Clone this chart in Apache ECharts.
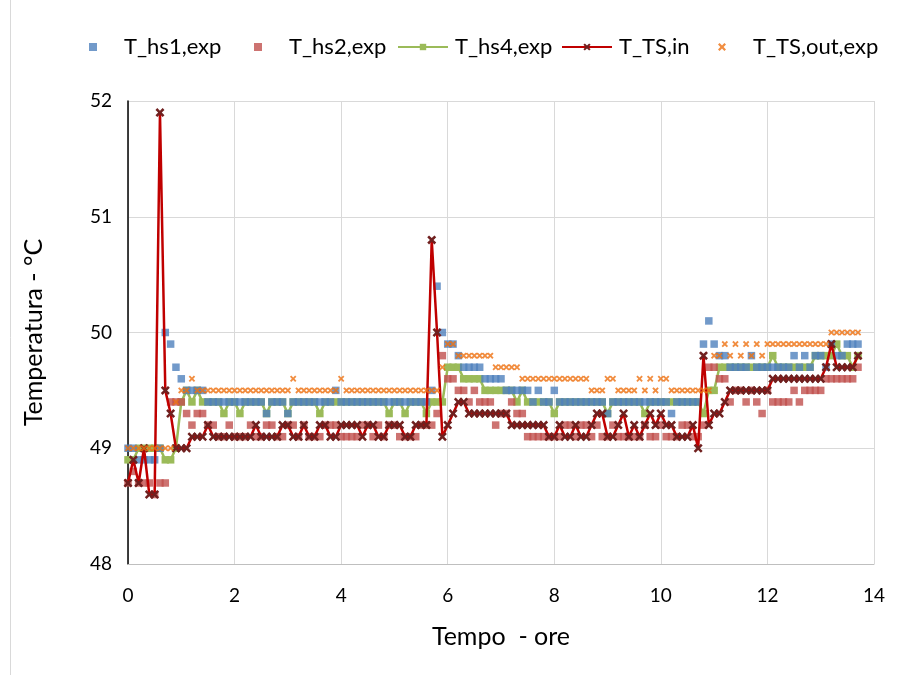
<!DOCTYPE html>
<html>
<head>
<meta charset="utf-8">
<script src="https://cdn.jsdelivr.net/npm/echarts@6/dist/echarts.min.js"></script>
<style>
html,body{margin:0;padding:0;background:#fff;}
#chart{width:901px;height:675px;}
</style>
</head>
<body>
<div id="chart"></div>
<script>
// time step between samples (hours)
const tStep = 0.1;

const hs1 = [
 49.0,49.0,48.9,48.9,48.9,48.9,49.0,50.0,49.9,49.7,
 49.6,49.5,49.5,49.5,49.5,49.4,49.4,49.4,49.4,49.4,
 49.4,49.4,49.4,49.4,49.4,49.4,49.3,49.4,49.4,49.4,
 49.3,49.4,49.4,49.4,49.4,49.4,49.4,49.4,49.4,49.5,
 49.4,49.4,49.4,49.4,49.4,49.4,49.4,49.4,49.4,49.4,
 49.4,49.4,49.4,49.4,49.4,49.4,49.4,49.5,50.4,50.0,
 49.9,49.9,49.8,49.7,49.7,49.7,49.7,49.6,49.6,49.6,
 49.6,49.5,49.5,49.5,49.5,49.5,49.4,49.5,49.4,49.4,
 49.5,49.4,49.4,49.4,49.4,49.4,49.4,49.4,49.4,49.4,
 49.3,49.4,49.4,49.4,49.4,49.4,49.4,49.4,49.4,49.4,
 49.4,49.4,49.3,49.4,49.4,49.4,49.4,49.4,49.9,50.1,
 49.9,49.8,49.8,49.7,49.7,49.7,49.7,49.8,49.7,49.7,
 49.7,49.7,49.7,49.7,49.7,49.8,49.7,49.8,49.7,49.8,
 49.8,49.7,49.9,49.8,49.8,49.9,49.9,49.9
];

const hs2 = [
 48.7,48.8,48.7,48.7,48.7,48.6,48.7,48.7,49.4,49.4,
 49.4,49.3,49.2,49.3,49.3,49.2,49.2,49.1,49.1,49.2,
 49.1,49.1,49.1,49.2,49.1,49.1,49.2,49.2,49.1,49.1,
 49.2,49.2,49.1,49.2,49.1,49.1,49.1,49.2,49.2,49.2,
 49.1,49.1,49.1,49.1,49.2,49.2,49.1,49.2,49.1,49.2,
 49.2,49.1,49.1,49.1,49.1,49.2,49.2,49.2,49.3,49.8,
 49.6,49.6,49.5,49.5,49.4,49.5,49.4,49.4,49.4,49.2,
 49.3,49.3,49.4,49.3,49.3,49.1,49.1,49.1,49.1,49.1,
 49.1,49.1,49.2,49.2,49.1,49.2,49.2,49.1,49.2,49.1,
 49.1,49.2,49.1,49.1,49.1,49.1,49.1,49.2,49.1,49.1,
 49.2,49.1,49.1,49.1,49.2,49.2,49.1,49.1,49.2,49.7,
 49.7,49.6,49.6,49.4,49.5,49.5,49.4,49.5,49.4,49.3,
 49.5,49.4,49.4,49.4,49.4,49.5,49.4,49.5,49.5,49.5,
 49.5,49.6,49.6,49.6,49.6,49.6,49.6,49.7
];

const hs4 = [
 48.9,48.9,49.0,49.0,49.0,49.0,49.0,48.9,48.9,49.0,
 49.4,49.5,49.4,49.5,49.4,49.4,49.4,49.4,49.3,49.4,
 49.4,49.3,49.4,49.4,49.4,49.4,49.3,49.4,49.4,49.4,
 49.3,49.4,49.4,49.4,49.4,49.4,49.3,49.4,49.4,49.4,
 49.4,49.4,49.4,49.4,49.4,49.4,49.4,49.4,49.4,49.3,
 49.4,49.4,49.3,49.4,49.4,49.4,49.3,49.4,49.4,49.4,
 49.7,49.7,49.7,49.6,49.6,49.6,49.6,49.5,49.5,49.5,
 49.5,49.5,49.5,49.4,49.5,49.4,49.4,49.4,49.4,49.4,
 49.3,49.4,49.4,49.4,49.4,49.4,49.4,49.4,49.4,49.4,
 49.3,49.4,49.4,49.4,49.4,49.4,49.4,49.3,49.4,49.4,
 49.4,49.4,49.4,49.4,49.4,49.4,49.4,49.4,49.3,49.5,
 49.5,49.7,49.7,49.7,49.7,49.7,49.7,49.7,49.7,49.7,
 49.7,49.8,49.7,49.7,49.7,49.7,49.7,49.7,49.7,49.8,
 49.8,49.8,49.8,49.9,49.8,49.8,49.7,49.8
];

const tsIn = [
 48.7,48.9,48.7,49.0,48.6,48.6,51.9,49.5,49.3,49.0,
 49.0,49.0,49.1,49.1,49.1,49.2,49.1,49.1,49.1,49.1,
 49.1,49.1,49.1,49.1,49.2,49.1,49.1,49.1,49.1,49.2,
 49.2,49.1,49.1,49.2,49.1,49.1,49.2,49.2,49.1,49.1,
 49.2,49.2,49.2,49.2,49.1,49.2,49.2,49.1,49.1,49.2,
 49.2,49.2,49.1,49.1,49.2,49.2,49.2,50.8,50.0,49.1,
 49.2,49.3,49.4,49.4,49.3,49.3,49.3,49.3,49.3,49.3,
 49.3,49.3,49.2,49.2,49.2,49.2,49.2,49.2,49.2,49.1,
 49.1,49.2,49.1,49.1,49.2,49.1,49.1,49.2,49.3,49.3,
 49.1,49.1,49.2,49.3,49.1,49.2,49.1,49.2,49.3,49.2,
 49.3,49.2,49.2,49.1,49.1,49.1,49.2,49.0,49.8,49.2,
 49.3,49.3,49.4,49.5,49.5,49.5,49.5,49.5,49.5,49.5,
 49.5,49.6,49.6,49.6,49.6,49.6,49.6,49.6,49.6,49.6,
 49.6,49.7,49.9,49.7,49.7,49.7,49.7,49.8
];

const tsOut = [
 49.0,49.0,49.0,49.0,49.0,49.0,49.0,49.0,49.0,49.4,
 49.5,49.5,49.6,49.5,49.5,49.5,49.5,49.5,49.5,49.5,
 49.5,49.5,49.5,49.5,49.5,49.5,49.5,49.5,49.5,49.5,
 49.5,49.6,49.5,49.5,49.5,49.5,49.5,49.5,49.5,49.5,
 49.6,49.5,49.5,49.5,49.5,49.5,49.5,49.5,49.5,49.5,
 49.5,49.5,49.5,49.5,49.5,49.5,49.5,49.5,49.5,49.7,
 49.9,49.9,49.8,49.8,49.8,49.8,49.8,49.8,49.8,49.7,
 49.7,49.7,49.7,49.7,49.6,49.6,49.6,49.6,49.6,49.6,
 49.6,49.6,49.6,49.6,49.6,49.6,49.6,49.5,49.5,49.5,
 49.6,49.6,49.5,49.5,49.5,49.5,49.6,49.5,49.6,49.5,
 49.6,49.6,49.5,49.5,49.5,49.5,49.5,49.5,49.5,49.5,
 49.8,49.8,49.9,49.8,49.9,49.8,49.9,49.8,49.9,49.8,
 49.9,49.9,49.9,49.9,49.9,49.9,49.9,49.9,49.9,49.9,
 49.9,49.9,50.0,50.0,50.0,50.0,50.0,50.0
];

const seriesNames = ['T_hs1,exp','T_hs2,exp','T_hs4,exp','T_TS,in','T_TS,out,exp'];
const xTicks = {min:0, max:14, interval:2};
const yTicks = {min:48, max:52, interval:1};

function pts(arr){ return arr.map((v,i)=>[Math.round(i*tStep*100)/100, v]); }

const FONT = 'Lato, "Liberation Sans", sans-serif';
const crossPath = 'path://M0,2L2,0L5,3L8,0L10,2L7,5L10,8L8,10L5,7L2,10L0,8L3,5Z';

const chart = echarts.init(document.getElementById('chart'), null, {renderer:'canvas'});
function lt(pad){ return {fontSize:22, fontFamily:FONT, color:'#000', padding:[0,0,0,pad]}; }
chart.setOption({
  animation:false,
  backgroundColor:'#fff',
  graphic:[{type:'rect', z:-10, shape:{x:10.5, y:-5, width:1000, height:700},
            style:{fill:'none', stroke:'#d9d9d9', lineWidth:1}, silent:true}],
  grid:{left:128, right:27, top:101, bottom:111, containLabel:false},
  legend:[
    {data:[seriesNames[0]], left:84, top:31, itemWidth:8, itemHeight:8, textStyle:lt(22)},
    {data:[seriesNames[1]], left:249, top:31, itemWidth:8, itemHeight:8, textStyle:lt(22)},
    {data:[seriesNames[2]], left:392, top:31, itemWidth:50, itemHeight:8, textStyle:lt(2)},
    {data:[seriesNames[3]], left:556, top:31, itemWidth:50, itemHeight:9, textStyle:lt(2)},
    {data:[seriesNames[4]], left:713, top:31, itemWidth:8, itemHeight:8, textStyle:lt(22)}
  ],
  xAxis:{
    type:'value', min:xTicks.min, max:xTicks.max, interval:xTicks.interval,
    name:'Tempo  - ore', nameLocation:'middle', nameGap:60,
    nameTextStyle:{fontSize:25, fontFamily:FONT, color:'#000'},
    axisLine:{show:true, onZero:false, lineStyle:{color:'#bfbfbf', width:1}},
    axisTick:{show:false},
    axisLabel:{fontSize:19, fontFamily:FONT, color:'#000', margin:22},
    splitLine:{show:true, lineStyle:{color:'#d9d9d9', width:1}}
  },
  yAxis:{
    type:'value', min:yTicks.min, max:yTicks.max, interval:yTicks.interval,
    name:'Temperatura - °C', nameLocation:'middle', nameGap:82,
    nameTextStyle:{fontSize:25, fontFamily:FONT, color:'#000'},
    axisLine:{show:true, onZero:false, lineStyle:{color:'#000', width:1.5}},
    axisTick:{show:false},
    axisLabel:{fontSize:19, fontFamily:FONT, color:'#000', margin:16},
    splitLine:{show:true, lineStyle:{color:'#d9d9d9', width:1}}
  },
  series:[
    {name:seriesNames[2], type:'line', z:1, data:pts(hs4), symbol:'rect', symbolSize:7.5, showAllSymbol:true,
     lineStyle:{color:'#9bbb59', width:2.5}, itemStyle:{color:'#9bbb59'}},
    {name:seriesNames[0], type:'scatter', z:2, data:pts(hs1), symbol:'rect', symbolSize:7.5,
     itemStyle:{color:'#4f81bd'}},
    {name:seriesNames[1], type:'scatter', z:2, data:pts(hs2), symbol:'rect', symbolSize:7.5,
     itemStyle:{color:'#c0504d'}},
    {name:seriesNames[3], type:'line', z:3, data:pts(tsIn), symbol:crossPath, symbolSize:9, showAllSymbol:true,
     lineStyle:{color:'#c00000', width:2.5}, itemStyle:{color:'#70201f'}},
    {name:seriesNames[4], type:'scatter', z:4, data:pts(tsOut), symbol:crossPath, symbolSize:6.5,
     itemStyle:{color:'#ed7010'}}
  ]
});
</script>
</body>
</html>
